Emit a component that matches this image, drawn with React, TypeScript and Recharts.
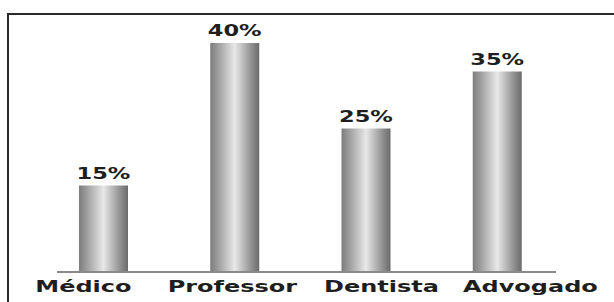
import React from 'react';
import { BarChart, Bar, XAxis, YAxis, LabelList, ReferenceArea } from 'recharts';

const categories = ['Médico', 'Professor', 'Dentista', 'Advogado'];
const values = [15, 40, 25, 35];
const valueLabels = ['15%', '40%', '25%', '35%'];

const data = categories.map((name, i) => ({ name, value: values[i], label: valueLabels[i] }));

const STRETCH = 1.5;

const CategoryLabel = (props: any) => {
  const { x, y, width, height, value } = props;
  const cx = x + width / 2;
  const bottom = y + height;
  return (
    <g transform={`translate(${cx},${bottom + 21}) scale(${STRETCH},1)`}>
      <text x={0} y={0} textAnchor="middle" fontFamily="'DejaVu Sans', sans-serif" fontWeight="bold" fontSize={16} fill="#1e1e1e">
        {value}
      </text>
    </g>
  );
};

const ValueLabel = (props: any) => {
  const { x, y, width, value } = props;
  const cx = x + width / 2;
  return (
    <g transform={`translate(${cx},${y - 7}) scale(${STRETCH},1)`}>
      <text x={0} y={0} textAnchor="middle" fontFamily="'DejaVu Sans', sans-serif" fontWeight="bold" fontSize={15} fill="#1e1e1e">
        {value}
      </text>
    </g>
  );
};

const BaseLine = (props: any) => {
  const { x, y, width, height } = props;
  const yy = y + height;
  return <line x1={x} x2={x + width} y1={yy + 1} y2={yy + 1} stroke="#8a8a8a" strokeWidth={2} />;
};

export default function App() {
  return (
    <div style={{ position: 'absolute', left: 0, top: 0, width: 614, height: 302, background: '#fff', overflow: 'hidden' }}>
      <div
        style={{
          position: 'absolute',
          left: 7,
          top: 13,
          width: 640,
          height: 320,
          borderTop: '2.5px solid #2a2a2a',
          borderLeft: '2.5px solid #2a2a2a',
          boxSizing: 'border-box',
        }}
      />
      <div style={{ position: 'absolute', left: 0, top: 0 }}>
        <BarChart width={614} height={302} data={data} margin={{ top: 43, right: 9, bottom: 31, left: 9 }}>
          <defs>
            <linearGradient id="barGrad" x1="0" y1="0" x2="1" y2="0">
              <stop offset="0%" stopColor="#7c7c7c" />
              <stop offset="18%" stopColor="#a2a2a2" />
              <stop offset="50%" stopColor="#e8e8e8" />
              <stop offset="82%" stopColor="#959595" />
              <stop offset="100%" stopColor="#6a6a6a" />
            </linearGradient>
          </defs>
          <YAxis hide domain={[0, 40]} width={0} />
          <XAxis xAxisId="labels" dataKey="name" hide height={0} />
          <XAxis xAxisId="bars" dataKey="name" hide height={0} padding={{ left: 29, right: 42 }} />
          <XAxis xAxisId="base" dataKey="name" hide height={0} padding={{ left: 48, right: 49 }} />
          <ReferenceArea
            xAxisId="base"
            x1={categories[0]}
            x2={categories[categories.length - 1]}
            y1={0}
            y2={values[1]}
            shape={<BaseLine />}
          />
          <Bar xAxisId="labels" dataKey="value" fill="transparent" isAnimationActive={false}>
            <LabelList dataKey="name" content={<CategoryLabel />} />
          </Bar>
          <Bar xAxisId="base" dataKey="value" fill="transparent" isAnimationActive={false} />
          <Bar xAxisId="bars" dataKey="value" barSize={49} fill="url(#barGrad)" isAnimationActive={false}>
            <LabelList dataKey="label" content={<ValueLabel />} />
          </Bar>
        </BarChart>
      </div>
    </div>
  );
}
